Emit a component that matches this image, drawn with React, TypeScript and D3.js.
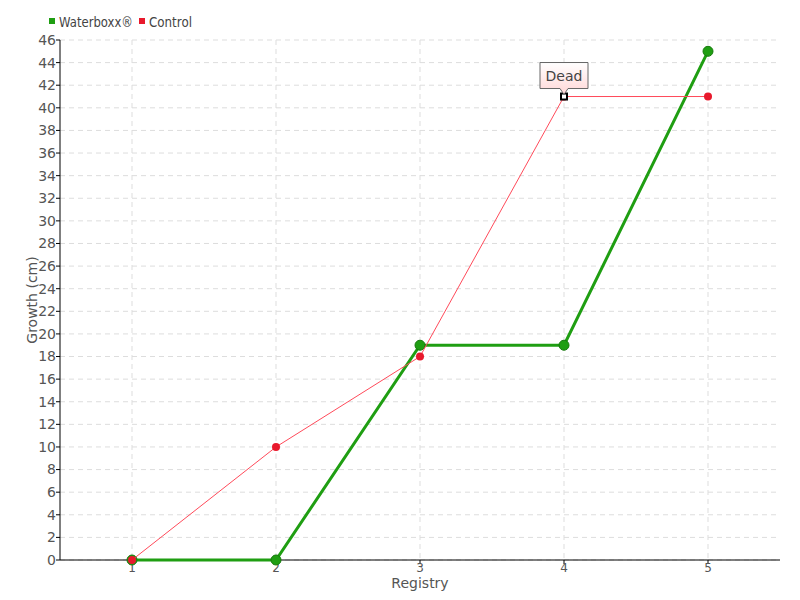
import React from "react";
import * as d3 from "d3";

const categories = [1, 2, 3, 4, 5];
const waterboxx = [0, 0, 19, 19, 45];
const control = [0, 10, 18, 41, 41];
const yTicks = d3.range(0, 47, 2);
const seriesNames = ["Waterboxx®", "Control"];
const annotationText = "Dead";
const annotationIndex = 3;

const W = 800, H = 600;
const M = { left: 60, right: 20, top: 40, bottom: 40 };
const FONT = "'DejaVu Sans', sans-serif";

export default function App() {
  const x = d3.scaleLinear().domain([0.5, 5.5]).range([M.left, W - M.right]);
  const y = d3.scaleLinear().domain([0, 46]).range([H - M.bottom, M.top]);
  const line = d3.line<number>().x((_, i) => x(categories[i])).y((d) => y(d));
  const ax = x(categories[annotationIndex]);
  const ay = y(control[annotationIndex]);
  return (
    <svg width={W} height={H} style={{ position: "absolute", left: 0, top: 0, fontFamily: FONT }}>
      <defs>
        <linearGradient id="ann" x1="0" y1="0" x2="0" y2="1">
          <stop offset="0" stopColor="#ffffff" />
          <stop offset="1" stopColor="#ffd6d6" />
        </linearGradient>
      </defs>
      <rect width={W} height={H} fill="#fff" />
      {yTicks.map((t) => (
        <line key={"gy" + t} x1={M.left} x2={W - M.right} y1={y(t)} y2={y(t)} stroke="#ddd" strokeDasharray="5,4" />
      ))}
      {categories.map((c) => (
        <line key={"gx" + c} x1={x(c)} x2={x(c)} y1={M.top} y2={H - M.bottom} stroke="#ddd" strokeDasharray="5,4" />
      ))}
      <line x1={M.left} x2={M.left} y1={M.top} y2={H - M.bottom} stroke="#000" />
      <line x1={M.left} x2={W - M.right} y1={H - M.bottom} y2={H - M.bottom} stroke="#000" />
      {yTicks.map((t) => (
        <g key={"ty" + t}>
          <line x1={M.left - 4} x2={M.left} y1={y(t)} y2={y(t)} stroke="#000" />
          <text x={M.left - 4} y={y(t)} dy="0.35em" textAnchor="end" fontSize={14} fill="#555">{t}</text>
        </g>
      ))}
      {categories.map((c) => (
        <g key={"tx" + c}>
          <line x1={x(c)} x2={x(c)} y1={H - M.bottom} y2={H - M.bottom + 4} stroke="#000" />
          <text x={x(c)} y={H - M.bottom + 12} textAnchor="middle" fontSize={12} fill="#555">{c}</text>
        </g>
      ))}
      <text x={x(3)} y={588} textAnchor="middle" fontSize={14} fill="#555">Registry</text>
      <text transform={`translate(37,${y(23)}) rotate(-90)`} textAnchor="middle" fontSize={14} fill="#555">Growth (cm)</text>
      <path d={line(waterboxx) || ""} fill="none" stroke="#1f9e12" strokeWidth={3} />
      {waterboxx.map((v, i) => (
        <circle key={"w" + i} cx={x(categories[i])} cy={y(v)} r={5} fill="#1f9e12" stroke="#167a0c" strokeWidth={1} />
      ))}
      <path d={line(control) || ""} fill="none" stroke="#ff4a5a" strokeWidth={1} />
      {control.map((v, i) => (
        <circle key={"c" + i} cx={x(categories[i])} cy={y(v)} r={4} fill="#e8192c" />
      ))}
      <rect x={ax - 3} y={ay - 3} width={6} height={6} fill="#fff" stroke="#000" strokeWidth={2} />
      <path d={`M${ax - 24},${ay - 34} h48 v26 h-20 l-4,6 l-4,-6 h-20 z`} fill="url(#ann)" stroke="#666" />
      <text x={ax} y={ay - 16} textAnchor="middle" fontSize={14} fill="#444">{annotationText}</text>
      <rect x={49} y={18} width={6} height={6} fill="#1f9e12" />
      <text x={59} y={27} fontSize={14} fill="#444" textLength={74} lengthAdjust="spacingAndGlyphs">{seriesNames[0]}</text>
      <rect x={139} y={18} width={6} height={6} fill="#e8192c" />
      <text x={149} y={27} fontSize={14} fill="#444" textLength={43} lengthAdjust="spacingAndGlyphs">{seriesNames[1]}</text>
    </svg>
  );
}
